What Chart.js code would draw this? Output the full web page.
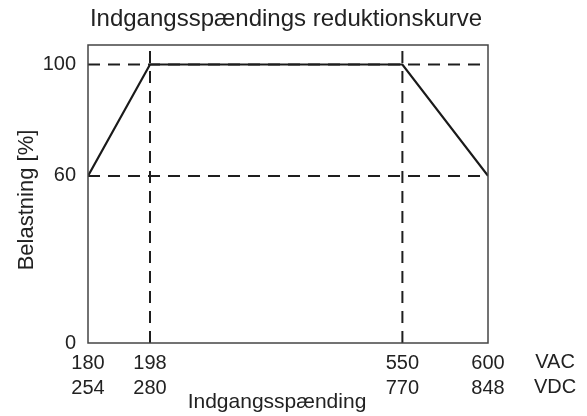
<!DOCTYPE html>
<html>
<head>
<meta charset="utf-8">
<script src="https://cdn.jsdelivr.net/npm/chart.js@4"></script>
<style>
  html, body { margin: 0; padding: 0; background: #fff; }
  #wrap { width: 587px; height: 416px; }
</style>
</head>
<body>
<div id="wrap"><canvas id="c" width="587" height="416"></canvas></div>
<script>
// ---- data ----
const titleText = 'Indgangsspændings reduktionskurve';
const xTitle = 'Indgangsspænding';
const yTitle = 'Belastning [%]';
const vacTicks = [180, 198, 550, 600];
const vdcTicks = [254, 280, 770, 848];
const unitLabels = ['VAC', 'VDC'];
const curveVolts = [180, 198, 550, 600];
const curveLoad = [60, 100, 100, 60];
const refLoads = [100, 60];
const refVolts = [198, 550];
const yTicks = [0, 60, 100];
const yMin = 0, yMax = 107;

// ---- piecewise (non-proportional) voltage axis, as in the drawing ----
class PiecewiseScale extends Chart.LinearScale {
  getPixelForValue(v) {
    const bp = this.options.breaks, fr = this.options.fractions;
    let f;
    if (v <= bp[0]) f = fr[0];
    else if (v >= bp[bp.length - 1]) f = fr[fr.length - 1];
    else {
      for (let i = 0; i < bp.length - 1; i++) {
        if (v >= bp[i] && v <= bp[i + 1]) {
          f = fr[i] + (v - bp[i]) / (bp[i + 1] - bp[i]) * (fr[i + 1] - fr[i]);
          break;
        }
      }
    }
    return this.getPixelForDecimal(f);
  }
}
PiecewiseScale.id = 'piecewise';
PiecewiseScale.defaults = Chart.LinearScale.defaults;
Chart.register(PiecewiseScale);

const FONT = "'Liberation Sans', Arial, sans-serif";
const INK = '#222';

const dashed = { borderColor: '#1e1e1e', borderWidth: 2, borderDash: [12, 8], pointRadius: 0, fill: false, tension: 0 };

const datasets = [];
refLoads.forEach(l => datasets.push(Object.assign({
  data: [{ x: vacTicks[0], y: l }, { x: vacTicks[vacTicks.length - 1], y: l }]
}, dashed)));
refVolts.forEach(v => datasets.push(Object.assign({
  data: [{ x: v, y: yMin }, { x: v, y: yMax }]
}, dashed)));
datasets.push({
  data: curveVolts.map((v, i) => ({ x: v, y: curveLoad[i] })),
  borderColor: '#1a1a1a', borderWidth: 2.2, pointRadius: 0, fill: false, tension: 0
});

const decor = {
  id: 'decor',
  afterDraw(chart) {
    const ctx = chart.ctx, a = chart.chartArea;
    ctx.save();
    ctx.strokeStyle = '#444';
    ctx.lineWidth = 1.5;
    ctx.strokeRect(a.left, a.top, a.right - a.left, a.bottom - a.top);
    ctx.fillStyle = INK;
    ctx.textAlign = 'center';
    ctx.textBaseline = 'middle';
    ctx.font = '24px ' + FONT;
    ctx.fillText(titleText, 286, 19);
    ctx.font = '20px ' + FONT;
    ctx.fillText(unitLabels[0], a.right + 67, a.bottom + 19);
    ctx.fillText(unitLabels[1], a.right + 67, a.bottom + 44);
    ctx.font = '21px ' + FONT;
    ctx.fillText(xTitle, 277, 402);
    ctx.translate(27, 200);
    ctx.rotate(-Math.PI / 2);
    ctx.font = '22px ' + FONT;
    ctx.fillText(yTitle, 0, 0);
    ctx.restore();
  }
};

new Chart(document.getElementById('c'), {
  type: 'line',
  data: { datasets },
  options: {
    responsive: false,
    animation: false,
    events: [],
    parsing: true,
    layout: { padding: { top: 45, right: 99, left: 0, bottom: 0 } },
    plugins: { legend: { display: false }, tooltip: { enabled: false } },
    scales: {
      x: {
        type: 'piecewise',
        min: vacTicks[0], max: vacTicks[vacTicks.length - 1],
        breaks: vacTicks, fractions: [0, 0.155, 0.786, 1],
        grid: { display: false, drawTicks: false },
        border: { display: false },
        afterBuildTicks: s => { s.ticks = vacTicks.map(v => ({ value: v })); },
        afterFit: s => { s.height = 73; },
        ticks: {
          autoSkip: false, maxRotation: 0, padding: 8,
          color: INK, font: { family: FONT, size: 20, lineHeight: 1.25 },
          callback: (val, i) => [String(vacTicks[i]), String(vdcTicks[i])]
        }
      },
      y: {
        type: 'linear', min: yMin, max: yMax,
        grid: { display: false, drawTicks: false },
        border: { display: false },
        afterBuildTicks: s => { s.ticks = yTicks.map(v => ({ value: v })); },
        afterFit: s => { s.width = 88; },
        ticks: {
          padding: 12, color: INK, font: { family: FONT, size: 20 },
          callback: v => String(v)
        }
      }
    }
  },
  plugins: [decor]
});
</script>
</body>
</html>
